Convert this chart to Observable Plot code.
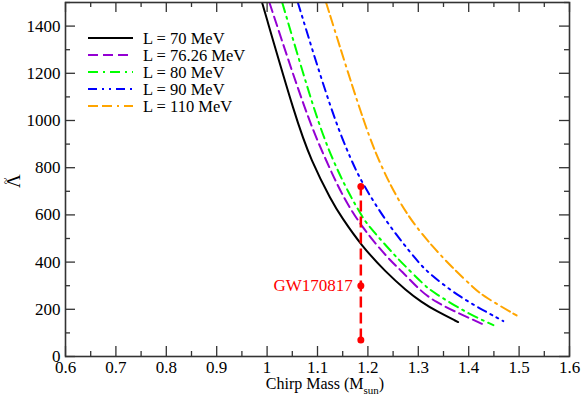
<!DOCTYPE html>
<html>
<head>
<meta charset="utf-8">
<script src="https://cdn.jsdelivr.net/npm/d3@7"></script>
<script src="https://cdn.jsdelivr.net/npm/@observablehq/plot@0.6"></script>
<style>
  html, body { margin: 0; padding: 0; background: #fff; }
  #chart svg { display: block; }
  #chart svg, #chart svg text { font-family: 'Liberation Serif', 'DejaVu Serif', serif !important; font-variant-numeric: normal !important; }
</style>
</head>
<body>
<div id="chart"></div>
<script>
// ---- data ----
const seriesNames = ["L = 70 MeV", "L = 76.26 MeV", "L = 80 MeV", "L = 90 MeV", "L = 110 MeV"];
const seriesColors = ["#000000", "#9400D3", "#00FF00", "#0000FF", "#FFA500"];
const seriesDash = [null, "10,5", "10,5,2,5", "9,5,2,5,2,5", "10,4,10,5,2,5"];

const mass70   = [0.990, 1.0577, 1.087, 1.128, 1.147, 1.187, 1.2366, 1.276, 1.306, 1.336, 1.379];
const lam70    = [1500, 1002, 832, 658, 593, 470, 355, 280, 231, 192, 146];
const mass7626 = [1.0046, 1.080, 1.117, 1.147, 1.187, 1.243, 1.266, 1.306, 1.336, 1.369, 1.4288];
const lam7626  = [1500, 1010, 832, 690, 549, 408, 365, 273, 230, 194, 136];
const mass80   = [1.030, 1.096, 1.130, 1.1637, 1.187, 1.197, 1.250, 1.266, 1.313, 1.329, 1.397, 1.449];
const lam80    = [1500, 1020, 832, 684, 600, 563, 436, 400, 300, 273, 183, 133];
const mass90   = [1.061, 1.130, 1.167, 1.187, 1.240, 1.300, 1.316, 1.380, 1.4686];
const lam90    = [1500, 1020, 832, 740, 557, 400, 362, 252, 150];
const mass110  = [1.117, 1.185, 1.220, 1.260, 1.293, 1.329, 1.366, 1.412, 1.432, 1.495];
const lam110   = [1500, 1035, 832, 662, 556, 464, 380, 286, 252, 174];

const gwMass = 1.186;
const gwLambda = [70, 300, 720];
const gwLabel = "GW170817";

const xMajor = [0.6, 0.7, 0.8, 0.9, 1.0, 1.1, 1.2, 1.3, 1.4, 1.5, 1.6];
const xMinor = [0.65, 0.75, 0.85, 0.95, 1.05, 1.15, 1.25, 1.35, 1.45, 1.55];
const yMajor = [0, 200, 400, 600, 800, 1000, 1200, 1400];
const yMinor = [100, 300, 500, 700, 900, 1100, 1300, 1500];
const xTickLabels = ["0.6", "0.7", "0.8", "0.9", "1", "1.1", "1.2", "1.3", "1.4", "1.5", "1.6"];

// ---- build table ----
const massList = [mass70, mass7626, mass80, mass90, mass110];
const lamList = [lam70, lam7626, lam80, lam90, lam110];
const W = 581, H = 399;
const mL = 65, mR = 12, mT = 2, mB = 43;
const fh = H - mT - mB, fw = W - mL - mR;
const FONT = "'Liberation Serif', 'DejaVu Serif', serif";

const lineMarks = seriesNames.map((name, i) => {
  const rows = massList[i].map((m, j) => ({m, l: lamList[i][j]}));
  return Plot.line(rows, {
    x: "m", y: "l", stroke: seriesColors[i], strokeWidth: 2,
    strokeDasharray: seriesDash[i] || undefined, curve: "basis", clip: true
  });
});

const gwRows = gwLambda.map(l => ({m: gwMass, l}));

const plot = Plot.plot({
  width: W, height: H,
  marginLeft: mL, marginRight: mR, marginTop: mT, marginBottom: mB,
  style: {fontFamily: FONT, fontSize: "16px", background: "#fff", color: "#000"},
  x: {domain: [0.6, 1.6]},
  y: {domain: [0, 1500]},
  marks: [
    ...lineMarks,
    Plot.ruleX([gwMass], {y1: gwLambda[0], y2: gwLambda[2], stroke: "#FF0000", strokeWidth: 2.5, strokeDasharray: "11,5"}),
    Plot.dot(gwRows, {x: "m", y: "l", r: 3.5, fill: "#FF0000", stroke: "none"}),
    Plot.text([gwRows[1]], {x: "m", y: "l", text: () => gwLabel, textAnchor: "end", dx: -8, fill: "#FF0000", fontSize: 17, fontFamily: FONT}),
    // inward ticks on all four sides
    Plot.ruleX(xMajor, {x: d => d, insetTop: fh - 10, stroke: "#333", strokeWidth: 1.3}),
    Plot.ruleX(xMajor, {x: d => d, insetBottom: fh - 10, stroke: "#333", strokeWidth: 1.3}),
    Plot.ruleX(xMinor, {x: d => d, insetTop: fh - 5, stroke: "#333", strokeWidth: 1.3}),
    Plot.ruleX(xMinor, {x: d => d, insetBottom: fh - 5, stroke: "#333", strokeWidth: 1.3}),
    Plot.ruleY(yMajor, {y: d => d, insetRight: fw - 10, stroke: "#333", strokeWidth: 1.3}),
    Plot.ruleY(yMajor, {y: d => d, insetLeft: fw - 10, stroke: "#333", strokeWidth: 1.3}),
    Plot.ruleY(yMinor, {y: d => d, insetRight: fw - 5, stroke: "#333", strokeWidth: 1.3}),
    Plot.ruleY(yMinor, {y: d => d, insetLeft: fw - 5, stroke: "#333", strokeWidth: 1.3}),
    Plot.frame({stroke: "#333", strokeWidth: 1.6}),
    Plot.axisX(xMajor, {tickSize: 0, tickPadding: 4, tickFormat: (d, i) => xTickLabels[i], label: null, fontSize: 17, fontFamily: FONT}),
    Plot.axisY(yMajor, {tickSize: 0, tickPadding: 5, tickFormat: d => String(d), label: null, fontSize: 17, fontFamily: FONT})
  ]
});

document.getElementById("chart").appendChild(plot);

// ---- axis titles and legend ----
const svg = d3.select(plot);
const yl = mT + fh / 2 + 2;
svg.append("text")
  .attr("transform", `translate(20,${yl}) rotate(-90)`)
  .attr("text-anchor", "middle")
  .attr("font-size", 19)
  .text("Λ");
svg.append("text")
  .attr("transform", `translate(9.5,${yl}) rotate(-90)`)
  .attr("text-anchor", "middle")
  .attr("font-size", 12)
  .text("~");

const xt = svg.append("text")
  .attr("x", 325).attr("y", 389)
  .attr("text-anchor", "middle")
  .attr("font-size", 16);
xt.append("tspan").text("Chirp Mass (M");
xt.append("tspan").attr("font-size", 11).attr("dy", 5).text("sun");
xt.append("tspan").attr("dy", -5).text(")");

const leg = svg.append("g");
seriesNames.forEach((name, i) => {
  const yy = 38 + i * 17;
  leg.append("line")
    .attr("x1", 88).attr("x2", 133).attr("y1", yy).attr("y2", yy)
    .attr("stroke", seriesColors[i]).attr("stroke-width", 2)
    .attr("stroke-dasharray", seriesDash[i]);
  leg.append("text")
    .attr("x", 143).attr("y", yy + 5.5)
    .attr("text-anchor", "start")
    .attr("font-size", 16.5)
    .text(name);
});

// force the serif face on every text element
svg.selectAll("text").attr("font-family", FONT).style("font-family", FONT);
</script>
</body>
</html>
